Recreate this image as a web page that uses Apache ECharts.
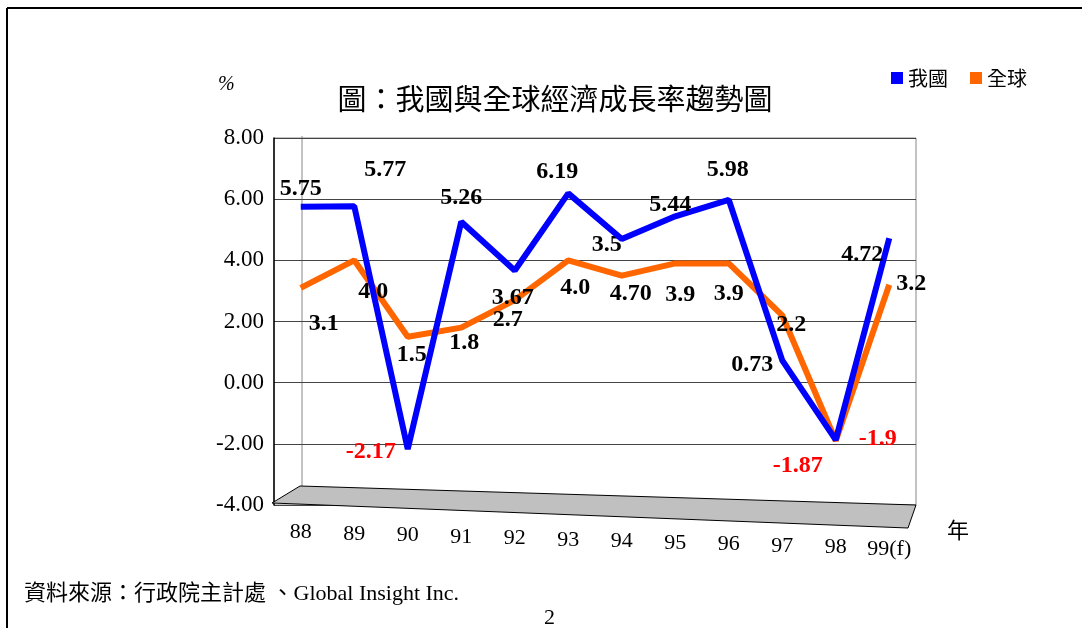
<!DOCTYPE html>
<html>
<head>
<meta charset="utf-8">
<script src="https://cdn.jsdelivr.net/npm/echarts@6/dist/echarts.min.js"></script>
<style>html,body{margin:0;padding:0;background:#fff}#c{width:1082px;height:628px}</style>
</head>
<body>
<div id="c"></div>
<script>
// ---- data ----
const years = ['88','89','90','91','92','93','94','95','96','97','98','99(f)'];
const taiwan = [5.75, 5.77, -2.17, 5.26, 3.67, 6.19, 4.70, 5.44, 5.98, 0.73, -1.87, 4.72];
const world  = [3.1, 4.0, 1.5, 1.8, 2.7, 4.0, 3.5, 3.9, 3.9, 2.2, -1.9, 3.2];

// label offsets (center of label relative to point) - style only
const twOff = [[0,-18],[31,-36],[-37,3],[0,-24],[-2,27],[-11,-22],[9,55],[-5,-11],[-1,-30],[-30,4],[-38,26],[-27,16]];
const wdOff = [[23,36],[19,31],[4,18],[3,15],[-7,20],[7,27],[-15,-31],[5,31],[0,30],[9,9],[42,-2],[22,-1]];

function build(vals, offs, digits){
  return vals.map((v,i)=>({
    value: v,
    label: {
      show: true,
      position: 'inside',
      offset: offs[i],
      formatter: v.toFixed(digits),
      color: v < 0 ? '#ff0000' : '#000',
      fontFamily: 'Liberation Serif',
      fontWeight: 'bold',
      fontSize: 24
    }
  }));
}
const twData = build(taiwan, twOff, 2);
const wdData = build(world, wdOff, 1);
const xData = years.map((y,i)=>({value: y, textStyle: {padding: [Math.round(i*1.5),0,0,0]}}));

const chart = echarts.init(document.getElementById('c'));
chart.setOption({
  animation: false,
  backgroundColor: '#fff',
  title: {
    text: '圖：我國與全球經濟成長率趨勢圖',
    left: 550, top: 79, textAlign: 'center',
    textStyle: {fontFamily: 'Noto Sans CJK TC', fontWeight: 'normal', fontSize: 29, color: '#000'}
  },
  legend: {
    right: 50, top: 63,
    itemWidth: 12, itemHeight: 12, itemGap: 22,
    icon: 'rect',
    textStyle: {fontFamily: 'Noto Sans CJK TC', fontSize: 20, color: '#000'},
    data: [
      {name: '我國', itemStyle: {color: '#0000ff', opacity: 1}},
      {name: '全球', itemStyle: {color: '#ff6600', opacity: 1}}
    ]
  },
  grid: {left: 274, right: 166, top: 138, bottom: 123, show: true, borderColor: '#888', borderWidth: 1},
  xAxis: {
    type: 'category', data: xData, boundaryGap: true,
    axisLine: {show: false}, axisTick: {show: false},
    axisLabel: {interval: 0, hideOverlap: false, margin: 16, fontFamily: 'Liberation Serif', fontSize: 22, color: '#000'}
  },
  yAxis: {
    type: 'value', min: -4, max: 8, interval: 2,
    axisLine: {show: true, lineStyle: {color: '#000', width: 1.5}},
    axisTick: {show: false},
    splitLine: {show: true, lineStyle: {color: '#444', width: 1}},
    axisLabel: {margin: 10, fontFamily: 'Liberation Serif', fontSize: 23, color: '#000', formatter: v => v.toFixed(2)}
  },
  graphic: [
    {type: 'line', shape: {x1: 7, y1: 8, x2: 1082, y2: 8}, style: {stroke: '#000', lineWidth: 2}},
    {type: 'line', shape: {x1: 7, y1: 8, x2: 7, y2: 628}, style: {stroke: '#000', lineWidth: 2}},
    {type: 'line', z: 0, shape: {x1: 302, y1: 136, x2: 302, y2: 487}, style: {stroke: '#888', lineWidth: 1}},
    {type: 'polygon', z: 1, shape: {points: [[272,503],[300,486],[916,505],[908,528]]}, style: {fill: '#c0c0c0', stroke: '#000', lineWidth: 1}},
    {type: 'text', left: 218, top: 75, style: {text: '%', font: 'italic 20px "Liberation Serif"', fill: '#000'}},
    {type: 'text', left: 947, top: 519, style: {text: '年', font: '22px "Noto Sans CJK TC"', fill: '#000'}},
    {type: 'text', left: 24, top: 583, style: {text: '資料來源：行政院主計處 、Global Insight Inc.', font: '22px "Liberation Serif", "Noto Sans CJK TC"', fill: '#000'}},
    {type: 'text', left: 544, top: 607, style: {text: '2', font: '22px "Liberation Serif"', fill: '#000'}}
  ],
  series: [
    {
      name: '我國', type: 'line', data: twData, z: 4,
      symbol: 'circle', symbolSize: 1, showSymbol: true,
      itemStyle: {color: 'rgba(0,0,255,0)', borderWidth: 0},
      lineStyle: {color: '#0000ff', width: 6}
    },
    {
      name: '全球', type: 'line', data: wdData, z: 3,
      symbol: 'circle', symbolSize: 1, showSymbol: true,
      itemStyle: {color: 'rgba(255,102,0,0)', borderWidth: 0},
      lineStyle: {color: '#ff6600', width: 6}
    }
  ]
});
</script>
</body>
</html>
